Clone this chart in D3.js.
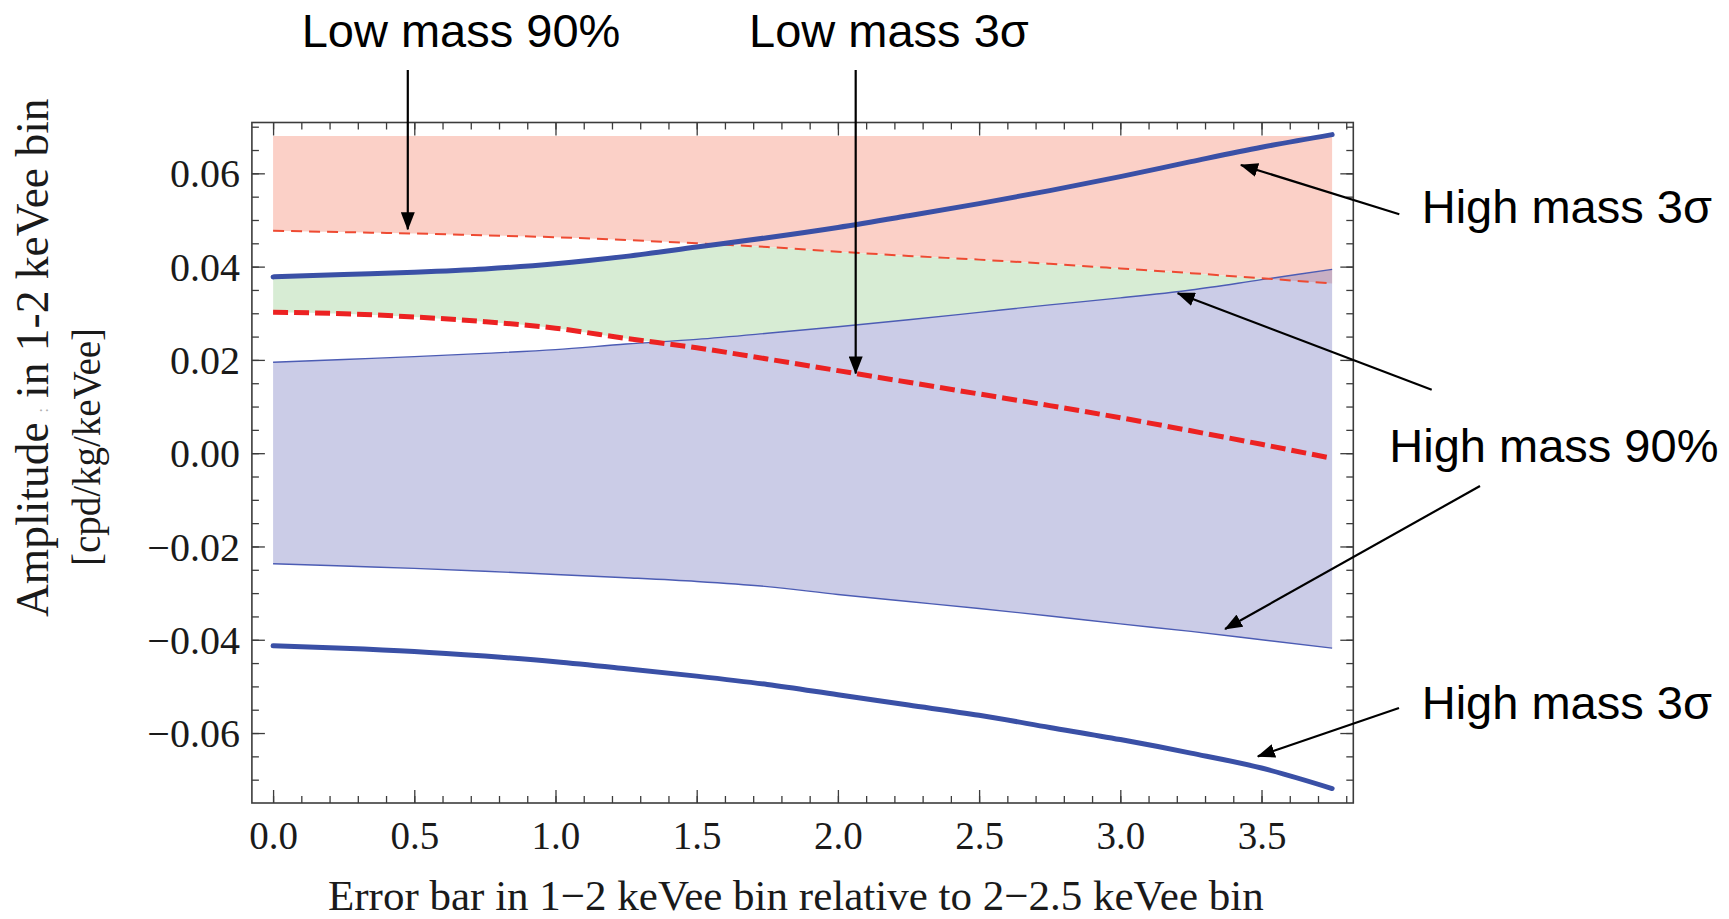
<!DOCTYPE html>
<html>
<head>
<meta charset="utf-8">
<script src="https://cdn.jsdelivr.net/npm/d3@7"></script>
<style>
  html, body { margin: 0; padding: 0; background: #ffffff; }
  svg { display: block; }
  .tick text { font-family: "Liberation Serif", "Times New Roman", serif; fill: #1a1a1a; }
</style>
</head>
<body>
<svg id="chart" width="1729" height="919"></svg>
<script>
// Error bar of the 1-2 keVee bin relative to the 2-2.5 keVee bin
const errorBarRatio = [0, 0.25, 0.5, 0.75, 1, 1.25, 1.5, 1.75, 2, 2.25, 2.5, 2.75, 3, 3.25, 3.5, 3.75];

// Amplitude bounds in the 1-2 keVee bin [cpd/kg/keVee]
const lowMass90 = [0.0477, 0.0474, 0.0471, 0.0467, 0.0463, 0.0457, 0.0450, 0.0442, 0.0432, 0.0423, 0.0415, 0.0406, 0.0396, 0.0386, 0.0375, 0.0364];
const lowMass3Sigma = [0.0302, 0.0299, 0.0292, 0.0282, 0.0268, 0.0246, 0.0226, 0.0202, 0.0177, 0.0152, 0.0127, 0.0102, 0.0076, 0.0048, 0.0019, -0.0011];
const highMass90Upper = [0.0195, 0.0201, 0.0207, 0.0214, 0.0222, 0.0234, 0.0244, 0.0257, 0.0271, 0.0286, 0.0302, 0.0318, 0.0333, 0.0350, 0.0372, 0.0394];
const highMass90Lower = [-0.0237, -0.0242, -0.0247, -0.0253, -0.0260, -0.0267, -0.0275, -0.0286, -0.0303, -0.0318, -0.0333, -0.0349, -0.0366, -0.0382, -0.0400, -0.0418];
const highMass3SigmaUpper = [0.0378, 0.0383, 0.0388, 0.0395, 0.0406, 0.0422, 0.0442, 0.0462, 0.0484, 0.0509, 0.0535, 0.0563, 0.0593, 0.0625, 0.0656, 0.0683];
const highMass3SigmaLower = [-0.0413, -0.0418, -0.0425, -0.0435, -0.0447, -0.0462, -0.0478, -0.0496, -0.0518, -0.0540, -0.0562, -0.0588, -0.0614, -0.0643, -0.0675, -0.0719];

// Upper edge of the low-mass 90% excluded band
const excludedCeiling = 0.0680;

// Axis ticks
const xMajorTicks = [0, 0.5, 1, 1.5, 2, 2.5, 3, 3.5];
const xMinorTicks = d3.range(0, 39).map(i => i / 10);
const yMajorTicks = [-0.06, -0.04, -0.02, 0, 0.02, 0.04, 0.06];
const yMinorTicks = d3.range(-14, 15).map(i => i * 0.005);

// Callouts: label text and the point each arrow points at
const calloutText = ["Low mass 90%", "Low mass 3σ", "High mass 3σ", "High mass 90%", "High mass 90%", "High mass 3σ"];
const calloutTipX = [0.477, 2.063, 3.427, 3.203, 3.371, 3.487];
const calloutTipY = [0.0480, 0.0171, 0.0618, 0.0343, -0.0377, -0.0650];

const svg = d3.select("#chart");

const frame = { left: 251.9, right: 1353.3, top: 122.5, bottom: 803 };
const x = d3.scaleLinear().domain([-0.075, 3.825]).range([frame.left, frame.right]);
const y = d3.scaleLinear().domain([-0.0750, 0.0709]).range([frame.bottom, frame.top]);

const rows = errorBarRatio.map((r, i) => ({
  r,
  low90: lowMass90[i],
  low3: lowMass3Sigma[i],
  hi90u: highMass90Upper[i],
  hi90l: highMass90Lower[i],
  hi3u: highMass3SigmaUpper[i],
  hi3l: highMass3SigmaLower[i]
}));

const curve = d3.curveMonotoneX;
const band = (lo, hi) => d3.area().curve(curve).x(d => x(d.r)).y0(lo).y1(hi);
const line = acc => d3.line().curve(curve).x(d => x(d.r)).y(acc);

const defs = svg.append("defs");

// Region between the low-mass 3σ and 90% curves, used to cut the allowed (green) band
defs.append("clipPath").attr("id", "lowMassWindow")
  .append("path")
  .attr("d", band(d => y(d.low3), d => y(d.low90))(rows));

defs.append("marker")
  .attr("id", "arrowHead")
  .attr("markerUnits", "userSpaceOnUse")
  .attr("markerWidth", 18).attr("markerHeight", 14)
  .attr("refX", 17).attr("refY", 7)
  .attr("orient", "auto")
  .append("path")
  .attr("d", "M0,0 L18,7 L0,14 Z")
  .attr("fill", "#000");

const plot = svg.append("g");

// Low-mass 90% excluded region
plot.append("path")
  .attr("d", band(d => y(d.low90), () => y(excludedCeiling))(rows))
  .attr("fill", "#fbd0c7");

// Region allowed by both mass hypotheses
plot.append("path")
  .attr("d", band(d => y(d.hi90u), d => y(d.hi3u))(rows))
  .attr("clip-path", "url(#lowMassWindow)")
  .attr("fill", "#d7ecd4");

// High-mass 90% band
plot.append("path")
  .attr("d", band(d => y(d.hi90l), d => y(d.hi90u))(rows))
  .attr("fill", "#7578bf")
  .attr("fill-opacity", 0.38);

// Thin high-mass 90% edges
[d => y(d.hi90u), d => y(d.hi90l)].forEach(acc => {
  plot.append("path")
    .attr("d", line(acc)(rows))
    .attr("fill", "none")
    .attr("stroke", "#4c5cb4")
    .attr("stroke-width", 1.4);
});

// Low-mass 90% curve
plot.append("path")
  .attr("d", line(d => y(d.low90))(rows))
  .attr("fill", "none")
  .attr("stroke", "#ee4a32")
  .attr("stroke-width", 2)
  .attr("stroke-dasharray", "11,7");

// High-mass 3σ curves
[d => y(d.hi3u), d => y(d.hi3l)].forEach(acc => {
  plot.append("path")
    .attr("d", line(acc)(rows))
    .attr("fill", "none")
    .attr("stroke", "#3a50a6")
    .attr("stroke-width", 5)
    .attr("stroke-linecap", "round");
});

// Low-mass 3σ curve
plot.append("path")
  .attr("d", line(d => y(d.low3))(rows))
  .attr("fill", "none")
  .attr("stroke", "#ec2222")
  .attr("stroke-width", 5)
  .attr("stroke-dasharray", "15,6");

// Frame and ticks (inward, on all four sides)
const axisColor = "#3c3c3c";
function styleAxis(g) {
  g.select(".domain").remove();
  g.selectAll(".tick line").attr("stroke", axisColor).attr("stroke-width", 1.3);
}

svg.append("g").attr("transform", `translate(0,${frame.bottom})`)
  .call(d3.axisBottom(x).tickValues(xMinorTicks).tickSize(-7).tickFormat(""))
  .call(styleAxis);
svg.append("g").attr("transform", `translate(0,${frame.bottom})`)
  .call(d3.axisBottom(x).tickValues(xMajorTicks).tickSizeInner(-13).tickSizeOuter(0).tickPadding(18).tickFormat(d3.format(".1f")))
  .call(styleAxis)
  .call(g => g.selectAll(".tick text").attr("font-size", 39));

svg.append("g").attr("transform", `translate(0,${frame.top})`)
  .call(d3.axisTop(x).tickValues(xMinorTicks).tickSize(-7).tickFormat(""))
  .call(styleAxis);
svg.append("g").attr("transform", `translate(0,${frame.top})`)
  .call(d3.axisTop(x).tickValues(xMajorTicks).tickSize(-13).tickFormat(""))
  .call(styleAxis);

svg.append("g").attr("transform", `translate(${frame.left},0)`)
  .call(d3.axisLeft(y).tickValues(yMinorTicks).tickSize(-7).tickFormat(""))
  .call(styleAxis);
svg.append("g").attr("transform", `translate(${frame.left},0)`)
  .call(d3.axisLeft(y).tickValues(yMajorTicks).tickSizeInner(-13).tickSizeOuter(0).tickPadding(12).tickFormat(d3.format(".2f")))
  .call(styleAxis)
  .call(g => g.selectAll(".tick text").attr("font-size", 40).attr("dy", "0.34em"));

svg.append("g").attr("transform", `translate(${frame.right},0)`)
  .call(d3.axisRight(y).tickValues(yMinorTicks).tickSize(-7).tickFormat(""))
  .call(styleAxis);
svg.append("g").attr("transform", `translate(${frame.right},0)`)
  .call(d3.axisRight(y).tickValues(yMajorTicks).tickSize(-13).tickFormat(""))
  .call(styleAxis);

svg.append("rect")
  .attr("x", frame.left).attr("y", frame.top)
  .attr("width", frame.right - frame.left).attr("height", frame.bottom - frame.top)
  .attr("fill", "none").attr("stroke", axisColor).attr("stroke-width", 1.6);

// Axis titles
const serif = "'Liberation Serif', 'Times New Roman', serif";
svg.append("text")
  .attr("x", 328).attr("y", 910)
  .attr("font-family", serif).attr("font-size", 43).attr("fill", "#1a1a1a")
  .text("Error bar in 1\u22122 keVee bin relative to 2\u22122.5 keVee bin");

const yTitle1 = svg.append("text")
  .attr("transform", "translate(48,617) rotate(-90)")
  .attr("font-family", serif).attr("font-size", 45.5).attr("fill", "#1a1a1a");
yTitle1.append("tspan").text("Amplitude");
yTitle1.append("tspan").attr("dx", 10).attr("font-size", 16).attr("fill", "#b0b0b0").text(":");
yTitle1.append("tspan").attr("dx", 10).text("in 1-2 keVee bin");

svg.append("text")
  .attr("transform", "translate(100,566) rotate(-90)")
  .attr("font-family", serif).attr("font-size", 41).attr("fill", "#1a1a1a")
  .attr("textLength", 238).attr("lengthAdjust", "spacingAndGlyphs")
  .text("[cpd/kg/keVee]");

// Callouts
const sans = "'Liberation Sans', Arial, sans-serif";
const labelPos = [[301.7, 46.7], [749, 46.7], [1421.7, 222.6], [1389.3, 462], [1421.7, 718.5]];
const labelText = [calloutText[0], calloutText[1], calloutText[2], calloutText[3], calloutText[5]];
labelText.forEach((t, i) => {
  svg.append("text")
    .attr("x", labelPos[i][0]).attr("y", labelPos[i][1])
    .attr("font-family", sans).attr("font-size", 47).attr("fill", "#000")
    .text(t);
});

const arrowTails = [
  [x(calloutTipX[0]), 70],
  [x(calloutTipX[1]), 70],
  [1399.3, 214.3],
  [1431.7, 389.8],
  [1480, 486],
  [1399, 708]
];
arrowTails.forEach((tail, i) => {
  svg.append("line")
    .attr("x1", tail[0]).attr("y1", tail[1])
    .attr("x2", x(calloutTipX[i])).attr("y2", y(calloutTipY[i]))
    .attr("stroke", "#000").attr("stroke-width", 2.2)
    .attr("marker-end", "url(#arrowHead)");
});
</script>
</body>
</html>
